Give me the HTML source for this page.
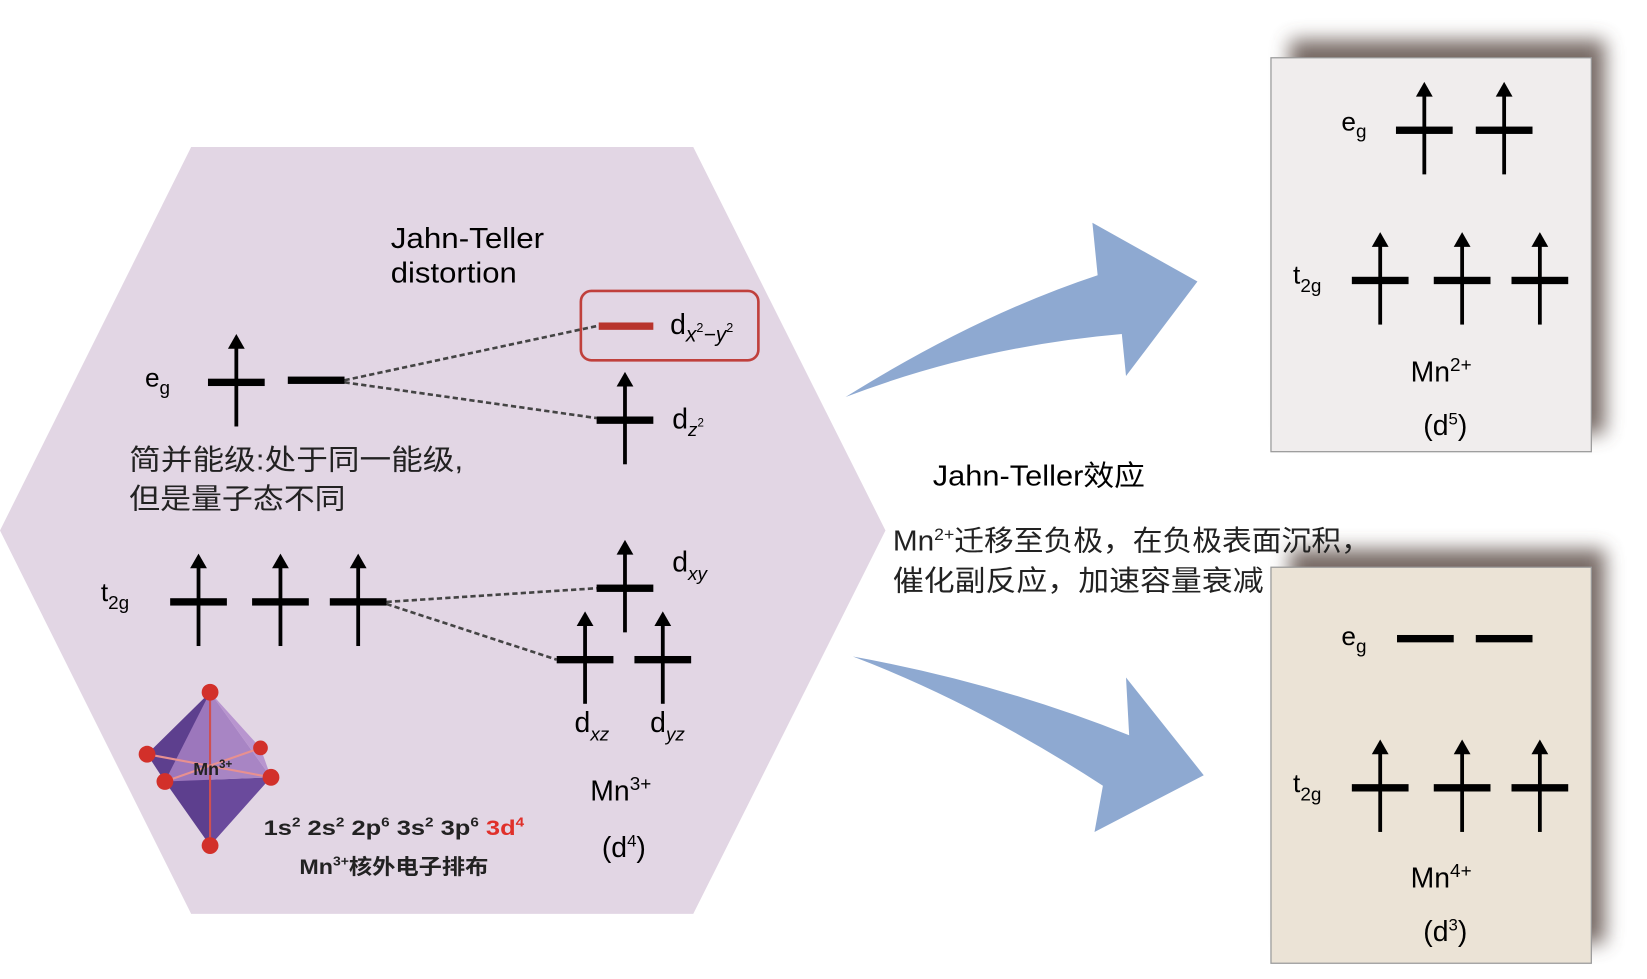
<!DOCTYPE html>
<html><head><meta charset="utf-8"><style>html,body{margin:0;padding:0;background:#fff}svg{display:block}</style></head>
<body>
<svg width="1647" height="979" viewBox="0 0 1568 932" preserveAspectRatio="none" xmlns="http://www.w3.org/2000/svg" font-family="'Liberation Sans','Noto Sans CJK SC',sans-serif">
<defs>
<filter id="bl" x="-20%" y="-20%" width="140%" height="140%"><feGaussianBlur stdDeviation="9"/></filter>
<g id="cx"><rect x="-27" y="-3.5" width="54" height="7" fill="#000"/><rect x="-1.8" y="-34" width="3.6" height="76" fill="#000"/><path d="M-8,-32 L0,-46 L8,-32Z" fill="#000"/></g>
<g id="bar"><rect x="-27" y="-3.5" width="54" height="7" fill="#000"/></g>
</defs>
<polygon points="182,140 660,140 843,505 660,870 182,870 0,505" fill="#e2d6e4"/>
<path d="M805,378 Q930,300 1045,262 L1040,212 L1140,268 L1072,358 L1068,318 Q930,330 805,378Z" fill="#8ea9d1"/>
<path d="M812,625 Q950,650 1075,700 L1072,645 L1146,738 L1042,792 L1050,748 Q930,670 812,625Z" fill="#8ea9d1"/>
<rect x="1228" y="38" width="300" height="375" fill="#5e504a" opacity="0.85" filter="url(#bl)"/>
<rect x="1228" y="523" width="300" height="375" fill="#5e504a" opacity="0.85" filter="url(#bl)"/>
<rect x="1210" y="55" width="305" height="375" fill="#f0eded" stroke="#9a9a9a" stroke-width="1.2"/>
<rect x="1210" y="540" width="305" height="377" fill="#ebe3d6" stroke="#9a9a9a" stroke-width="1.2"/>
<text x="372" y="236" font-size="27" textLength="146" lengthAdjust="spacingAndGlyphs">Jahn-Teller</text>
<text x="372" y="269" font-size="27" textLength="120" lengthAdjust="spacingAndGlyphs">distortion</text>
<rect x="553" y="277" width="169" height="66" rx="10" fill="none" stroke="#c0403c" stroke-width="2.5"/>
<rect x="570" y="307" width="52" height="7" fill="#b8342c"/>
<text x="638" y="318" font-size="27">d<tspan font-size="20" font-style="italic" dy="7">x</tspan><tspan font-size="12" dy="-9">2</tspan><tspan font-size="20" font-style="italic" dy="9">−y</tspan><tspan font-size="12" dy="-9">2</tspan></text>
<line x1="328" y1="362" x2="570" y2="310" stroke="#444" stroke-width="2.5" stroke-dasharray="5,3"/>
<line x1="328" y1="364" x2="568" y2="398" stroke="#444" stroke-width="2.5" stroke-dasharray="5,3"/>
<text x="138" y="368" font-size="25">e<tspan font-size="18" dy="7">g</tspan></text>
<use href="#cx" x="225" y="364"/>
<use href="#bar" x="301" y="362"/>
<use href="#cx" x="595" y="400"/>
<text x="640" y="408" font-size="27">d<tspan font-size="18" font-style="italic" dy="7">z</tspan><tspan font-size="11" dy="-9">2</tspan></text>
<text x="123" y="447" font-size="27" fill="#222" textLength="318" lengthAdjust="spacingAndGlyphs">简并能级:处于同一能级,</text>
<text x="123" y="484" font-size="27" fill="#222" textLength="206" lengthAdjust="spacingAndGlyphs">但是量子态不同</text>
<line x1="368" y1="573" x2="568" y2="560" stroke="#444" stroke-width="2.5" stroke-dasharray="5,3"/>
<line x1="368" y1="575" x2="530" y2="628" stroke="#444" stroke-width="2.5" stroke-dasharray="5,3"/>
<text x="96" y="572" font-size="25">t<tspan font-size="18" dy="8">2g</tspan></text>
<use href="#cx" x="189" y="573"/>
<use href="#cx" x="267" y="573"/>
<use href="#cx" x="341" y="573"/>
<use href="#cx" x="595" y="560"/>
<use href="#cx" x="557" y="628"/>
<use href="#cx" x="631" y="628"/>
<text x="640" y="544" font-size="27">d<tspan font-size="18" font-style="italic" dy="8">xy</tspan></text>
<text x="547" y="697" font-size="27">d<tspan font-size="18" font-style="italic" dy="8">xz</tspan></text>
<text x="619" y="697" font-size="27">d<tspan font-size="18" font-style="italic" dy="8">yz</tspan></text>
<text x="562" y="762" font-size="27">Mn<tspan font-size="18" dy="-10">3+</tspan></text>
<text x="573" y="816" font-size="27">(d<tspan font-size="16" dy="-10">4</tspan><tspan dy="10">)</tspan></text>
<g>
<polygon points="200,659 140,718 157,744 200,805" fill="#5d3f8e"/>
<polygon points="200,659 157,744 258,740 200,805" fill="#6a4a9c"/>
<polygon points="200,659 157,744 258,740" fill="#a27cc0" opacity="0.9"/>
<polygon points="200,659 248,712 258,740" fill="#b895cf"/>
<line x1="200" y1="659" x2="200" y2="805" stroke="#d05050" stroke-width="2"/>
<line x1="140" y1="718" x2="258" y2="740" stroke="#e89090" stroke-width="2"/>
<line x1="157" y1="744" x2="248" y2="712" stroke="#e89090" stroke-width="2"/>
<circle cx="200" cy="659" r="8" fill="#d2302a"/><circle cx="140" cy="718" r="8" fill="#d2302a"/><circle cx="157" cy="744" r="8" fill="#d2302a"/><circle cx="258" cy="740" r="8" fill="#d2302a"/><circle cx="248" cy="712" r="7" fill="#d2302a"/><circle cx="200" cy="805" r="8" fill="#d2302a"/>
<text x="184" y="738" font-size="17" font-weight="bold" fill="#222">Mn<tspan font-size="11" dy="-7">3+</tspan></text>
</g>
<text x="251" y="795" font-size="20" font-weight="bold" fill="#222" textLength="248" lengthAdjust="spacingAndGlyphs">1s<tspan font-size="12" dy="-8">2</tspan><tspan dy="8"> 2s</tspan><tspan font-size="12" dy="-8">2</tspan><tspan dy="8"> 2p</tspan><tspan font-size="12" dy="-8">6</tspan><tspan dy="8"> 3s</tspan><tspan font-size="12" dy="-8">2</tspan><tspan dy="8"> 3p</tspan><tspan font-size="12" dy="-8">6</tspan><tspan dy="8" fill="#e0302a"> 3d</tspan><tspan font-size="12" dy="-8" fill="#e0302a">4</tspan></text>
<text x="285" y="832" font-size="20" font-weight="bold" fill="#222" textLength="180" lengthAdjust="spacingAndGlyphs">Mn<tspan font-size="12" dy="-8">3+</tspan><tspan dy="8">核外电子排布</tspan></text>
<text x="1277" y="124" font-size="25">e<tspan font-size="18" dy="7">g</tspan></text>
<use href="#cx" x="1356" y="124"/>
<use href="#cx" x="1432" y="124"/>
<text x="1231" y="270" font-size="25">t<tspan font-size="18" dy="8">2g</tspan></text>
<use href="#cx" x="1314" y="267"/>
<use href="#cx" x="1392" y="267"/>
<use href="#cx" x="1466" y="267"/>
<text x="1343" y="363" font-size="27">Mn<tspan font-size="18" dy="-10">2+</tspan></text>
<text x="1355" y="414" font-size="27">(d<tspan font-size="16" dy="-10">5</tspan><tspan dy="10">)</tspan></text>
<text x="1277" y="614" font-size="25">e<tspan font-size="18" dy="7">g</tspan></text>
<use href="#bar" x="1357" y="608"/>
<use href="#bar" x="1432" y="608"/>
<text x="1231" y="754" font-size="25">t<tspan font-size="18" dy="8">2g</tspan></text>
<use href="#cx" x="1314" y="750"/>
<use href="#cx" x="1392" y="750"/>
<use href="#cx" x="1466" y="750"/>
<text x="1343" y="845" font-size="27">Mn<tspan font-size="18" dy="-10">4+</tspan></text>
<text x="1355" y="896" font-size="27">(d<tspan font-size="16" dy="-10">3</tspan><tspan dy="10">)</tspan></text>
<text x="888" y="462" font-size="27" textLength="202" lengthAdjust="spacingAndGlyphs">Jahn-Teller效应</text>
<text x="850" y="524" font-size="27" fill="#222" textLength="455" lengthAdjust="spacingAndGlyphs">Mn<tspan font-size="16" dy="-10">2+</tspan><tspan dy="10">迁移至负极，在负极表面沉积，</tspan></text>
<text x="850" y="562" font-size="27" fill="#222" textLength="353" lengthAdjust="spacingAndGlyphs">催化副反应，加速容量衰减</text>
</svg>
</body></html>
